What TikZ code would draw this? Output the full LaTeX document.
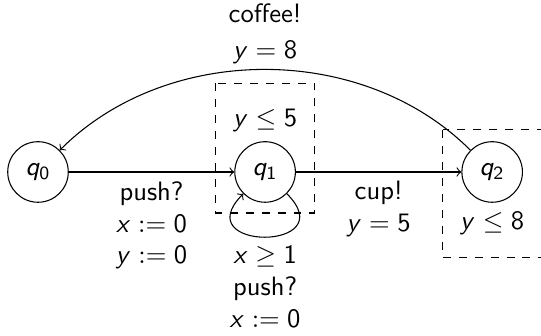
\documentclass[tikz,border=0pt]{standalone}
\usepackage{amsmath,amssymb}
\usetikzlibrary{positioning,calc}
\renewcommand{\familydefault}{\sfdefault}
% sans serif letters and digits in math
\DeclareSymbolFont{sfit}{OT1}{cmss}{m}{sl}
\DeclareSymbolFont{sfup}{OT1}{cmss}{m}{n}
\DeclareMathSymbol{q}{\mathalpha}{sfit}{`q}
\DeclareMathSymbol{x}{\mathalpha}{sfit}{`x}
\DeclareMathSymbol{y}{\mathalpha}{sfit}{`y}
\DeclareMathSymbol{0}{\mathord}{sfup}{`0}
\DeclareMathSymbol{1}{\mathord}{sfup}{`1}
\DeclareMathSymbol{2}{\mathord}{sfup}{`2}
\DeclareMathSymbol{5}{\mathord}{sfup}{`5}
\DeclareMathSymbol{8}{\mathord}{sfup}{`8}

\begin{document}
\begin{tikzpicture}[
  st/.style={circle,draw,minimum size=8mm,inner sep=0pt},
  tr/.style={->},
  lb/.style={align=center,font=\sffamily},
  inv/.style={draw,dashed}]
  \useasboundingbox (-0.502,-2.166) rectangle (6.645,2.272);
  % locations
  \node[st] (q0) at (0,0) {$q_0$};
  \node[st] (q1) at (3,0) {$q_1$};
  \node[st] (q2) at (6,0) {$q_2$};
  % invariants
  \node[lb,above=0pt of q1] (i1) {$y \leq 5$};
  \node[lb,below=0pt of q2] (i2) {$y \leq 8$};
  \draw[inv] ($(q1)+(-0.654,1.17)$) rectangle ($(q1)+(0.654,-0.542)$);
  \draw[inv] ($(q2)+(-0.654,0.555)$) rectangle ($(q2)+(0.654,-1.132)$);
  % transitions
  \draw[tr] (q0) -- node[lb,below] {push?\\$x := 0$\\$y := 0$} (q1);
  \draw[tr] (q1) -- node[lb,below] {cup!\\$y = 5$} (q2);
  \draw[tr] (q2) to[out=135,in=45,looseness=0.95] node[lb,above=-1.4pt] {coffee!\\[1.7pt]$y = 8$} (q0);
  \draw[tr] (q1.-45) .. controls +(-45:1.08) and +(-135:1.08) .. node[lb,below] {$x \geq 1$\\push?\\$x := 0$} (q1.-135);
\end{tikzpicture}
\end{document}
